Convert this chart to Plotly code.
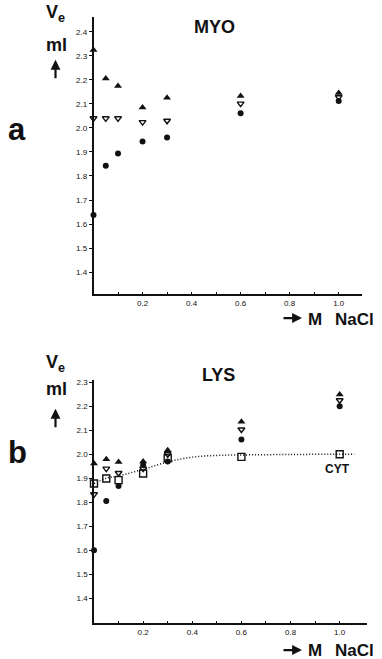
import plotly.graph_objects as go

# ---------------- data ----------------
nacl_m = [0, 0.05, 0.1, 0.2, 0.3, 0.6, 1.0]

# panel a : MYO
myo_tri_up = [2.324, 2.206, 2.175, 2.085, 2.126, 2.133, 2.145]
myo_tri_down = [2.040, 2.040, 2.040, 2.024, 2.030, 2.101, 2.128]
myo_circle = [1.638, 1.843, 1.894, 1.944, 1.960, 2.061, 2.112]

# panel b : LYS (+ CYT)
lys_tri_up = [1.961, 1.979, 1.968, 1.970, 2.017, 2.135, 2.249]
lys_tri_down = [1.833, 1.940, 1.922, 1.940, 2.000, 2.103, 2.225]
lys_circle = [1.600, 1.805, 1.868, 1.955, 1.970, 2.061, 2.200]
cyt_square = [1.878, 1.899, 1.892, 1.920, 1.983, 1.989, 2.000]
cyt_curve_x = [0, 0.05, 0.1, 0.2, 0.3, 0.4, 0.5, 0.6, 0.8, 1.0, 1.06]
cyt_curve_y = [1.878, 1.900, 1.910, 1.937, 1.968, 1.988, 1.995, 1.997, 1.999, 2.000, 2.000]

x_tickvals = [0.1, 0.2, 0.3, 0.4, 0.5, 0.6, 0.7, 0.8, 0.9, 1.0]
x_ticktext = ["", "0.2", "", "0.4", "", "0.6", "", "0.8", "", "1.0"]
y_tickvals_a = [1.4, 1.5, 1.6, 1.7, 1.8, 1.9, 2.0, 2.1, 2.2, 2.3, 2.4]
y_tickvals_b = [1.4, 1.5, 1.6, 1.7, 1.8, 1.9, 2.0, 2.1, 2.2, 2.3]

# ---------------- figure ----------------
W, H = 382, 659
FONT = "Liberation Sans, Arial, sans-serif"
INK = "#111111"

fig = go.Figure()

def add_markers(x, y, xa, ya, symbol, size, open_=False):
    if open_:
        marker = dict(symbol=symbol, size=size, color=INK, line=dict(width=1.4, color=INK))
    else:
        marker = dict(symbol=symbol, size=size, color=INK, line=dict(width=0))
    fig.add_trace(go.Scatter(x=x, y=y, mode="markers", marker=marker,
                             xaxis=xa, yaxis=ya, showlegend=False,
                             cliponaxis=False))

# panel a
add_markers(nacl_m, myo_tri_up, "x", "y", "triangle-up", 7)
add_markers(nacl_m, myo_tri_down, "x", "y", "triangle-down-open", 6, open_=True)
add_markers(nacl_m, myo_circle, "x", "y", "circle", 6)

# panel b
fig.add_trace(go.Scatter(x=cyt_curve_x, y=cyt_curve_y, mode="lines",
                         line=dict(color=INK, width=1.5, dash="1px,2px", shape="spline"),
                         xaxis="x2", yaxis="y2", showlegend=False))
add_markers(nacl_m, lys_tri_up, "x2", "y2", "triangle-up", 7)
add_markers(nacl_m, lys_tri_down, "x2", "y2", "triangle-down-open", 6, open_=True)
add_markers(nacl_m, lys_circle, "x2", "y2", "circle", 6)
add_markers(nacl_m, cyt_square, "x2", "y2", "square-open", 7, open_=True)

def px_x(p):
    return p / W

def px_y(p):
    return 1 - p / H

xaxis_common = dict(
    showgrid=False, zeroline=False, showline=True, linecolor=INK, linewidth=1.5,
    ticks="inside", ticklen=3, tickwidth=1, tickcolor=INK,
    tickvals=x_tickvals, ticktext=x_ticktext,
    tickfont=dict(family=FONT, size=8, color=INK),
)
yaxis_common = dict(
    showgrid=False, zeroline=False, showline=True, linecolor=INK, linewidth=1.5,
    ticks="outside", ticklen=3, tickwidth=1, tickcolor=INK,
    tickfont=dict(family=FONT, size=8, color=INK),
)

fig.update_layout(
    width=W, height=H, autosize=False,
    margin=dict(l=0, r=0, t=0, b=0),
    paper_bgcolor="white", plot_bgcolor="white",
    xaxis=dict(domain=[px_x(93.5), px_x(362)], range=[0, 1.095], anchor="y", **xaxis_common),
    yaxis=dict(domain=[px_y(293.3), px_y(15)], range=[1.307, 2.462], anchor="x",
               tickvals=y_tickvals_a, ticktext=[f"{v:.1f}" for v in y_tickvals_a],
               **yaxis_common),
    xaxis2=dict(domain=[px_x(94), px_x(366.7)], range=[0, 1.11], anchor="y2", **xaxis_common),
    yaxis2=dict(domain=[px_y(623.3), px_y(379)], range=[1.295, 2.31], anchor="x2",
                tickvals=y_tickvals_b, ticktext=[f"{v:.1f}" for v in y_tickvals_b],
                **yaxis_common),
)

def txt(x, y, text, size, xanchor="center", yanchor="middle"):
    fig.add_annotation(x=px_x(x), y=px_y(y), xref="paper", yref="paper",
                       text=text, showarrow=False, xanchor=xanchor, yanchor=yanchor,
                       borderpad=0,
                       font=dict(family=FONT, size=size, color=INK))

def arrow(hx, hy, ax, ay):
    fig.add_annotation(x=px_x(hx), y=px_y(hy), xref="paper", yref="paper",
                       text="", showarrow=True, ax=ax, ay=ay,
                       arrowhead=2, arrowsize=0.9, arrowwidth=2.2, arrowcolor=INK)

# panel a texts
txt(215, 25, "<b>MYO</b>", 18)
txt(17, 128, "<b>a</b>", 31)
txt(45, 12, "<b>V<sub>e</sub></b>", 18, xanchor="left")
txt(45, 43, "<b>ml</b>", 18, xanchor="left")
arrow(55.5, 58, 0, 20)
arrow(302, 317, -20, 0)
txt(307, 318, "<b>M</b>", 17, xanchor="left")
txt(334, 318, "<b>NaCl</b>", 17, xanchor="left")

# panel b texts
txt(218, 374, "<b>LYS</b>", 18)
txt(17, 452, "<b>b</b>", 31)
txt(45, 363, "<b>V<sub>e</sub></b>", 18, xanchor="left")
txt(45, 388, "<b>ml</b>", 18, xanchor="left")
arrow(55.5, 408, 0, 20)
arrow(302, 650, -20, 0)
txt(307, 650, "<b>M</b>", 17, xanchor="left")
txt(334, 650, "<b>NaCl</b>", 17, xanchor="left")
txt(337, 468, "<b>CYT</b>", 12)

fig.write_html("out.html")
